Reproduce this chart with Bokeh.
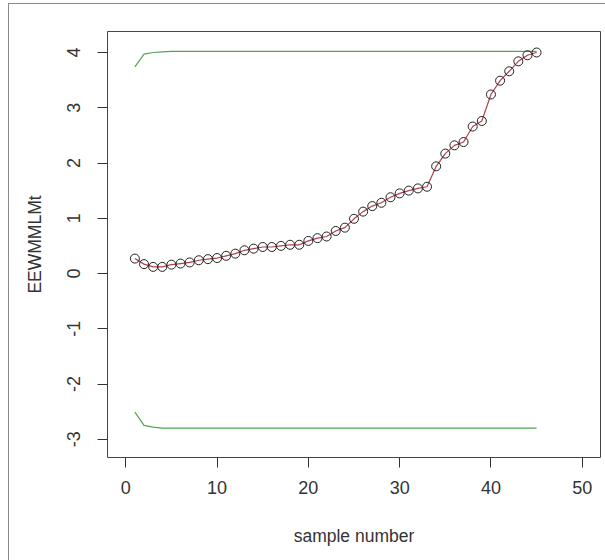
from bokeh.plotting import figure
from bokeh.models import Range1d, FixedTicker
from bokeh.embed import file_html
from bokeh.resources import INLINE

# ---- data ----
sample = list(range(1, 46))
eewmmlmt = [0.27, 0.17, 0.12, 0.12, 0.16, 0.18, 0.20, 0.24, 0.26, 0.28,
            0.32, 0.36, 0.42, 0.45, 0.48, 0.48, 0.50, 0.52, 0.52, 0.59,
            0.64, 0.67, 0.77, 0.83, 0.99, 1.12, 1.22, 1.28, 1.38, 1.45,
            1.50, 1.54, 1.57, 1.94, 2.17, 2.32, 2.38, 2.66, 2.76, 3.24,
            3.49, 3.66, 3.84, 3.95, 4.00]
ucl = [3.74, 3.97, 4.00, 4.01, 4.02, 4.02, 4.02, 4.02, 4.02, 4.02,
       4.02, 4.02, 4.02, 4.02, 4.02, 4.02, 4.02, 4.02, 4.02, 4.02,
       4.02, 4.02, 4.02, 4.02, 4.02, 4.02, 4.02, 4.02, 4.02, 4.02,
       4.02, 4.02, 4.02, 4.02, 4.02, 4.02, 4.02, 4.02, 4.02, 4.02,
       4.02, 4.02, 4.02, 4.02, 4.02]
lcl = [-2.51, -2.75, -2.78, -2.80, -2.80, -2.80, -2.80, -2.80, -2.80, -2.80,
       -2.80, -2.80, -2.80, -2.80, -2.80, -2.80, -2.80, -2.80, -2.80, -2.80,
       -2.80, -2.80, -2.80, -2.80, -2.80, -2.80, -2.80, -2.80, -2.80, -2.80,
       -2.80, -2.80, -2.80, -2.80, -2.80, -2.80, -2.80, -2.80, -2.80, -2.80,
       -2.80, -2.80, -2.80, -2.80, -2.80]
x_ticks = [0, 10, 20, 30, 40, 50]
y_ticks = [-3, -2, -1, 0, 1, 2, 3, 4]
y_tick_labels = ["-3", "-2", "-1", "0", "1", "2", "3", "4"]

FONT = "Liberation Sans"

p = figure(width=597, height=557, output_backend="svg", toolbar_location=None,
           x_range=Range1d(-2, 52), y_range=Range1d(-3.33, 4.38),
           min_border_left=98, min_border_right=6, min_border_top=27,
           min_border_bottom=104, x_axis_label="sample number",
           y_axis_label="EEWMMLMt")
p.styles = {"margin-left": "8px", "margin-top": "3px",
            "border-left": "1px solid #8a8a8a", "border-top": "1px solid #8a8a8a"}

p.grid.visible = False
p.outline_line_color = "#444444"
p.outline_line_width = 1
p.background_fill_color = "white"
p.border_fill_color = "white"

for ax, ticks in ((p.xaxis[0], x_ticks), (p.yaxis[0], y_ticks)):
    ax.ticker = FixedTicker(ticks=ticks)
    ax.minor_tick_line_color = None
    ax.axis_line_color = None
    ax.major_tick_in = 0
    ax.major_tick_out = 10
    ax.major_tick_line_color = "#333333"
    ax.major_label_text_font = FONT
    ax.major_label_text_font_size = "18px"
    ax.major_label_text_color = "#333333"
    ax.axis_label_text_font = FONT
    ax.axis_label_text_font_size = "17.5px"
    ax.axis_label_text_font_style = "normal"
    ax.axis_label_text_color = "#333333"

p.yaxis.major_label_overrides = {t: s for t, s in zip(y_ticks, y_tick_labels)}
p.yaxis.major_label_orientation = "vertical"
p.xaxis.major_label_standoff = 13
p.yaxis.major_label_standoff = 17
p.xaxis.axis_label_standoff = 29
p.yaxis.axis_label_standoff = 20

p.line(sample, ucl, line_color="#4ea64e", line_width=1.2)
p.line(sample, lcl, line_color="#4ea64e", line_width=1.2)
p.line(sample, eewmmlmt, line_color="#b04050", line_width=1.2)
p.scatter(sample, eewmmlmt, size=9, marker="circle", fill_color=None,
          line_color="#222222", line_width=1)

open("out.html", "w").write(file_html(p, INLINE))
